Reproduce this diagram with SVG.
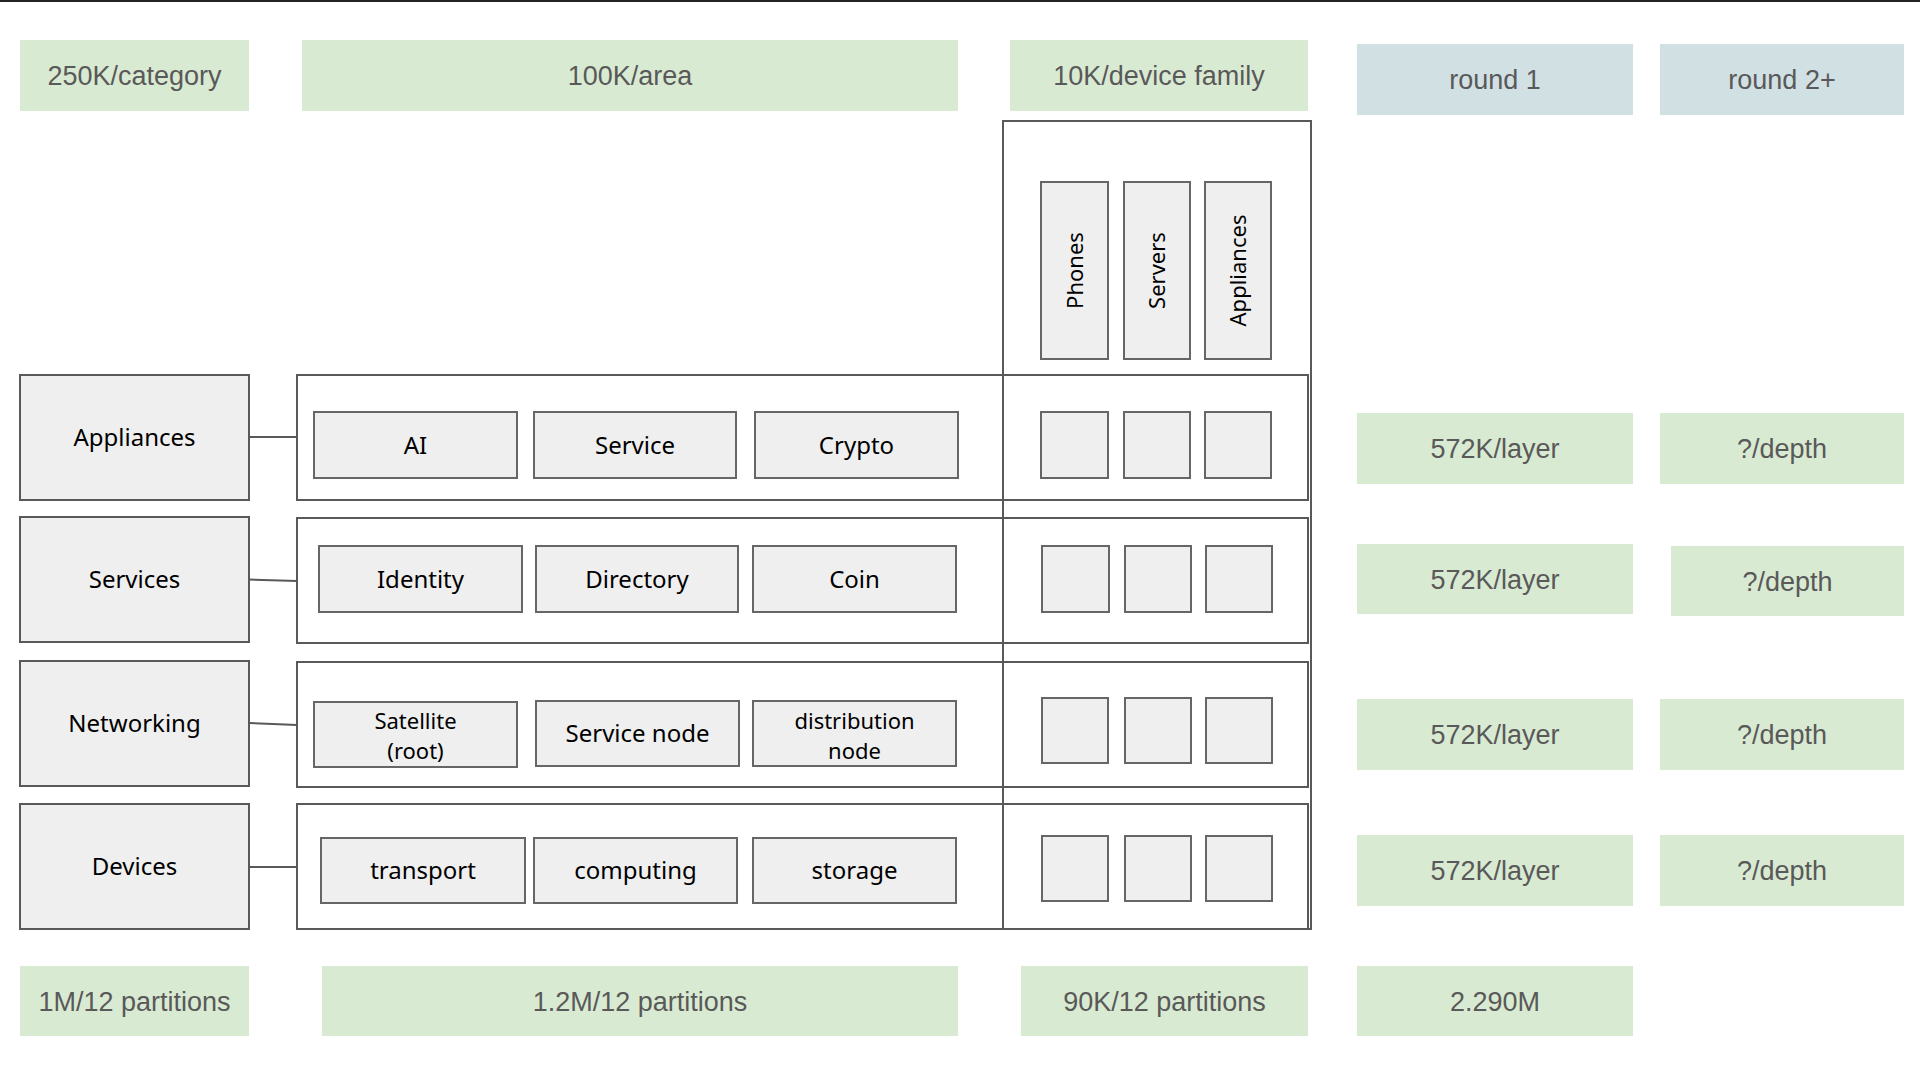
<svg xmlns="http://www.w3.org/2000/svg" width="1920" height="1080" viewBox="0 0 1920 1080">
<style>
.g{fill:#d9ead3}
.b{fill:#d0e0e3}
.lt{font-family:"Liberation Sans",Arial,sans-serif;font-size:27px;fill:#595959;text-anchor:middle}
.cat{fill:#efefef;stroke:#595959;stroke-width:2}
.row{fill:none;stroke:#595959;stroke-width:2}
.in{fill:#efefef;stroke:#666666;stroke-width:2}
.nt{font-family:"Noto Sans","Open Sans",sans-serif;font-size:24px;fill:#000;text-anchor:middle}
.nt2{font-family:"Noto Sans","Open Sans",sans-serif;font-size:22px;fill:#000;text-anchor:middle}
.vt{font-family:"Noto Sans","Open Sans",sans-serif;font-size:22px;fill:#000;text-anchor:middle}
.cn{stroke:#595959;stroke-width:2;fill:none}
</style>
<rect x="0" y="0" width="1920" height="1080" fill="#ffffff"/>
<line x1="0" y1="1" x2="1920" y2="1" stroke="#222" stroke-width="2"/>

<g id="header">
<g id="h-category"><rect class="g" x="20" y="40" width="229" height="71"/><text class="lt" x="134.5" y="85">250K/category</text></g>
<g id="h-area"><rect class="g" x="302" y="40" width="656" height="71"/><text class="lt" x="630" y="85">100K/area</text></g>
<g id="h-device"><rect class="g" x="1010" y="40" width="298" height="71"/><text class="lt" x="1159" y="85">10K/device family</text></g>
<g id="h-round1"><rect class="b" x="1357" y="44" width="276" height="71"/><text class="lt" x="1495" y="89">round 1</text></g>
<g id="h-round2"><rect class="b" x="1660" y="44" width="244" height="71"/><text class="lt" x="1782" y="89">round 2+</text></g>
</g>

<g id="rows">
<rect id="row-appliances" class="row" x="297" y="375" width="1011" height="125"/>
<rect id="row-services" class="row" x="297" y="518" width="1011" height="125"/>
<rect id="row-networking" class="row" x="297" y="662" width="1011" height="125"/>
<rect id="row-devices" class="row" x="297" y="804" width="1011" height="125"/>
</g>

<g id="device-column">
<rect class="row" x="1003" y="121" width="308" height="808"/>
<g id="phones"><rect class="in" x="1041" y="182" width="67" height="177"/><text class="vt" transform="translate(1082.5,270.5) rotate(-90)">Phones</text></g>
<g id="servers"><rect class="in" x="1124" y="182" width="66" height="177"/><text class="vt" transform="translate(1165,270.5) rotate(-90)">Servers</text></g>
<g id="appliances-family"><rect class="in" x="1205" y="182" width="66" height="177"/><text class="vt" transform="translate(1246,270.5) rotate(-90)">Appliances</text></g>
</g>

<g id="categories">
<g id="cat-appliances"><rect class="cat" x="20" y="375" width="229" height="125"/><text class="nt" x="134.5" y="446">Appliances</text></g>
<g id="cat-services"><rect class="cat" x="20" y="517" width="229" height="125"/><text class="nt" x="134.5" y="588">Services</text></g>
<g id="cat-networking"><rect class="cat" x="20" y="661" width="229" height="125"/><text class="nt" x="134.5" y="732">Networking</text></g>
<g id="cat-devices"><rect class="cat" x="20" y="804" width="229" height="125"/><text class="nt" x="134.5" y="875">Devices</text></g>
</g>

<g id="connectors">
<line class="cn" x1="249" y1="437" x2="297" y2="437"/>
<line class="cn" x1="249" y1="579.5" x2="297" y2="581"/>
<line class="cn" x1="249" y1="723" x2="297" y2="725"/>
<line class="cn" x1="249" y1="867" x2="297" y2="867"/>
</g>

<g id="areas">
<g id="ai"><rect class="in" x="314" y="412" width="203" height="66"/><text class="nt" x="415.5" y="453.5">AI</text></g>
<g id="service"><rect class="in" x="534" y="412" width="202" height="66"/><text class="nt" x="635" y="453.5">Service</text></g>
<g id="crypto"><rect class="in" x="755" y="412" width="203" height="66"/><text class="nt" x="856.5" y="453.5">Crypto</text></g>

<g id="identity"><rect class="in" x="319" y="546" width="203" height="66"/><text class="nt" x="420.5" y="587.5">Identity</text></g>
<g id="directory"><rect class="in" x="536" y="546" width="202" height="66"/><text class="nt" x="637" y="587.5">Directory</text></g>
<g id="coin"><rect class="in" x="753" y="546" width="203" height="66"/><text class="nt" x="854.5" y="587.5">Coin</text></g>

<g id="satellite"><rect class="in" x="314" y="702" width="203" height="65"/><text class="nt2" x="415.5" y="728.5">Satellite</text><text class="nt2" x="415.5" y="759">(root)</text></g>
<g id="service-node"><rect class="in" x="536" y="701" width="203" height="65"/><text class="nt" x="637.5" y="742">Service node</text></g>
<g id="distribution-node"><rect class="in" x="753" y="701" width="203" height="65"/><text class="nt2" x="854.5" y="728.5">distribution</text><text class="nt2" x="854.5" y="759">node</text></g>

<g id="transport"><rect class="in" x="321" y="838" width="204" height="65"/><text class="nt" x="423" y="879">transport</text></g>
<g id="computing"><rect class="in" x="534" y="838" width="203" height="65"/><text class="nt" x="635.5" y="879">computing</text></g>
<g id="storage"><rect class="in" x="753" y="838" width="203" height="65"/><text class="nt" x="854.5" y="879">storage</text></g>
</g>

<g id="device-cells">
<rect class="in" x="1041" y="412" width="67" height="66"/>
<rect class="in" x="1124" y="412" width="66" height="66"/>
<rect class="in" x="1205" y="412" width="66" height="66"/>
<rect class="in" x="1042" y="546" width="67" height="66"/>
<rect class="in" x="1125" y="546" width="66" height="66"/>
<rect class="in" x="1206" y="546" width="66" height="66"/>
<rect class="in" x="1042" y="698" width="66" height="65"/>
<rect class="in" x="1125" y="698" width="66" height="65"/>
<rect class="in" x="1206" y="698" width="66" height="65"/>
<rect class="in" x="1042" y="836" width="66" height="65"/>
<rect class="in" x="1125" y="836" width="66" height="65"/>
<rect class="in" x="1206" y="836" width="66" height="65"/>
</g>

<g id="estimates">
<g id="r1-l1"><rect class="g" x="1357" y="413" width="276" height="71"/><text class="lt" x="1495" y="458">572K/layer</text></g>
<g id="r2-l1"><rect class="g" x="1660" y="413" width="244" height="71"/><text class="lt" x="1782" y="458">?/depth</text></g>
<g id="r1-l2"><rect class="g" x="1357" y="544" width="276" height="70"/><text class="lt" x="1495" y="588.5">572K/layer</text></g>
<g id="r2-l2"><rect class="g" x="1671" y="546" width="233" height="70"/><text class="lt" x="1787.5" y="591">?/depth</text></g>
<g id="r1-l3"><rect class="g" x="1357" y="699" width="276" height="71"/><text class="lt" x="1495" y="744">572K/layer</text></g>
<g id="r2-l3"><rect class="g" x="1660" y="699" width="244" height="71"/><text class="lt" x="1782" y="744">?/depth</text></g>
<g id="r1-l4"><rect class="g" x="1357" y="835" width="276" height="71"/><text class="lt" x="1495" y="880">572K/layer</text></g>
<g id="r2-l4"><rect class="g" x="1660" y="835" width="244" height="71"/><text class="lt" x="1782" y="880">?/depth</text></g>
</g>

<g id="totals">
<g id="t-category"><rect class="g" x="20" y="966" width="229" height="70"/><text class="lt" x="134.5" y="1010.5">1M/12 partitions</text></g>
<g id="t-area"><rect class="g" x="322" y="966" width="636" height="70"/><text class="lt" x="640" y="1010.5">1.2M/12 partitions</text></g>
<g id="t-device"><rect class="g" x="1021" y="966" width="287" height="70"/><text class="lt" x="1164.5" y="1010.5">90K/12 partitions</text></g>
<g id="t-total"><rect class="g" x="1357" y="966" width="276" height="70"/><text class="lt" x="1495" y="1010.5">2.290M</text></g>
</g>
</svg>
